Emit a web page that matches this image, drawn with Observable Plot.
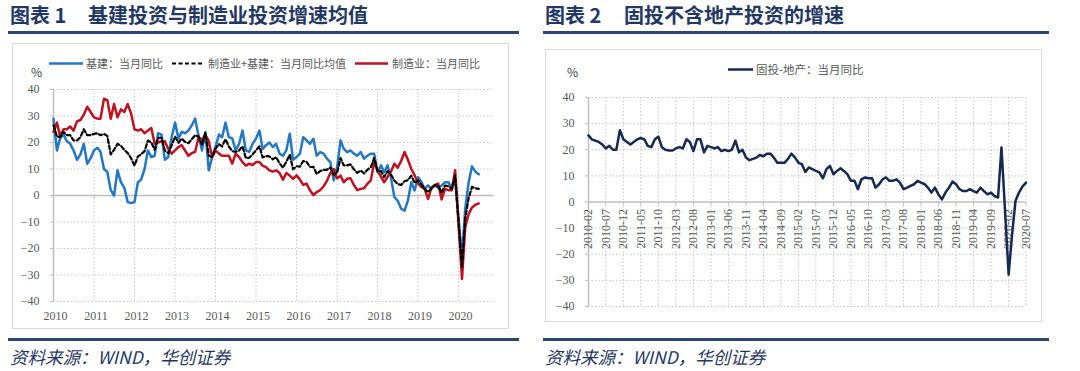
<!DOCTYPE html>
<html><head><meta charset="utf-8">
<script src="https://cdn.jsdelivr.net/npm/d3@7"></script>
<script src="https://cdn.jsdelivr.net/npm/@observablehq/plot@0.6"></script>
<style>
body{margin:0;width:1080px;height:371px;background:#fff;position:relative;overflow:hidden;font-family:"Noto Sans CJK SC",sans-serif;}
.abs{position:absolute;}
.title{font-weight:700;font-size:20px;color:#1F3864;line-height:20px;white-space:nowrap;}
.rule{height:3px;background:#2A4674;}
.src{font-style:italic;font-size:17.5px;color:#1F3864;white-space:nowrap;line-height:18px;}
.box{border:1px solid #D9D9D9;box-sizing:border-box;}
.leg{font-size:11px;color:#595959;white-space:nowrap;line-height:12px;}
.pct{font-size:12px;color:#404040;line-height:12px;}
svg{overflow:visible;}
</style></head><body>
<div class="abs title" style="left:10px;top:5px;">图表 1</div>
<div class="abs title" style="left:88px;top:5px;">基建投资与制造业投资增速均值</div>
<div class="abs rule" style="left:8px;top:31px;width:511px;"></div>
<div class="abs title" style="left:545px;top:5px;">图表 2</div>
<div class="abs title" style="left:624px;top:5px;">固投不含地产投资的增速</div>
<div class="abs rule" style="left:543px;top:31px;width:506px;"></div>

<div class="abs box" style="left:12px;top:43px;width:497px;height:286px;"></div>
<div class="abs box" style="left:545px;top:49px;width:497px;height:273px;"></div>
<div id="left" class="abs" style="left:12px;top:43px;"></div>
<div id="right" class="abs" style="left:545px;top:49px;"></div>

<div class="abs pct" style="left:31px;top:66px;">%</div>
<div class="abs pct" style="left:567px;top:66px;">%</div>

<svg class="abs" style="left:49px;top:62px;" width="35" height="3"><line x1="0" y1="1.5" x2="34" y2="1.5" stroke="#2378C3" stroke-width="2.5"/></svg>
<div class="abs leg" style="left:86px;top:57px;">基建：当月同比</div>
<svg class="abs" style="left:172px;top:62px;" width="33" height="3"><line x1="0" y1="1.5" x2="32" y2="1.5" stroke="#000" stroke-width="2.2" stroke-dasharray="4,2.5"/></svg>
<div class="abs leg" style="left:208px;top:57px;">制造业+基建：当月同比均值</div>
<svg class="abs" style="left:355px;top:62px;" width="34" height="3"><line x1="0" y1="1.5" x2="33" y2="1.5" stroke="#C0111F" stroke-width="2.5"/></svg>
<div class="abs leg" style="left:392px;top:57px;">制造业：当月同比</div>

<svg class="abs" style="left:728px;top:68px;" width="26" height="3"><line x1="0" y1="1.5" x2="25" y2="1.5" stroke="#142A52" stroke-width="2.5"/></svg>
<div class="abs leg" style="left:756px;top:63px;font-size:11.5px;">固投-地产：当月同比</div>

<div class="abs rule" style="left:8px;top:338px;width:511px;"></div>
<div class="abs rule" style="left:543px;top:338px;width:506px;"></div>
<div class="abs src" style="left:10px;top:348px;">资料来源：WIND，华创证券</div>
<div class="abs src" style="left:545px;top:348px;">资料来源：WIND，华创证券</div>

<script>
// ---- Figure 1: monthly, starting 2010-01 ----
const infra = [29,17,21.5,23,20.5,19.5,17,13.5,15.5,19.5,12,14,
17,18,16.5,10,9,2,0,9.5,5,3,-2.5,-2.8,
-2.5,5,6,10,17,14.5,15,23.5,23,13.5,14.5,22,
27.5,21.5,24,23.5,24.5,26.5,29,22.5,17,24,9.5,14.5,
18.5,23,22,27.5,22,21.5,17,19.5,24.5,17,16.5,19.5,
21.5,24.5,17.5,19,20,18.3,19.5,15.8,15,17,23.3,13.5,
14.5,15.8,22,20.8,19.5,21.4,15,16.4,15.8,13.9,12.6,5.7,
10.7,20.8,17.7,16.4,17,15.8,15,16.4,13.9,15,15.8,15.8,
8.8,11.4,8.8,11.4,6.9,-0.6,-1.9,-5,-5.7,-1.9,5,1.9,
6.9,5,2.5,3.8,2.5,3.8,2.9,3.8,5,5,2.9,5.7,
null,-23,-5,5,11,9,8];
const manu = [24,27.5,22.5,25,25,26,24.5,28,28.5,30.5,33.5,31.5,
29.5,29,29,36.5,36,29,34.5,29.5,32.5,31.5,34.5,31,
25,24.5,25,23.5,24.5,25.5,19.5,20,20.5,20.5,17.5,15.8,
17,18.3,19,17,15,16,16.5,22,21,23,20.5,14.5,
17,15.8,15,15,15,12,15.8,14.5,12.6,11.3,12,11.5,
12.6,12.6,11.3,10.7,9.5,9,9.5,8.5,6,8.5,7.5,6.3,
7.6,6,4,4.5,2,0.2,1.3,2,3.5,5.5,8.5,10,
6.5,7.5,5,6.3,6.5,4,2,2.5,2.7,4.4,5.7,12.5,
9.5,7,5,7,9,12,10.5,13,16.4,13.5,10,7.6,
4.5,3.2,2.5,-1.3,3,4,4.5,-1.5,2.5,2,2,9.5,
null,-31.5,-12,-7,-4.5,-3.5,-3];
const avgBoth = [26.5,22.25,22,24,22.75,22.75,20.75,20.75,22,25,22.75,22.75,
23.25,23.5,22.75,23.25,22.5,15.5,17.25,19.5,18.75,17.25,16,14.1,
11.25,14.75,15.5,16.75,20.75,20,17.25,21.75,21.75,17,16,18.9,
22.25,19.9,21.5,20.25,19.75,21.25,22.75,22.25,19,23.5,15,14.5,
17.75,19.4,18.5,21.25,18.5,16.75,16.4,17,18.55,14.15,14.25,15.5,
17.05,18.55,14.4,14.85,14.75,13.65,14.5,12.15,10.5,12.75,15.4,9.9,
11.05,10.9,13,12.65,10.75,10.8,8.15,9.2,9.65,9.7,10.55,7.85,
8.6,14.15,11.35,11.35,11.75,9.9,8.5,9.45,8.3,9.7,10.75,14.15,
9.15,9.2,6.9,9.2,7.95,5.7,4.3,4,5.35,5.8,7.5,4.75,
5.7,4.1,2.5,1.25,2.75,3.9,3.7,1.15,3.75,3.5,2.45,7.6,
null,-27.25,-8.5,-1,3.25,2.75,2.5];
const yearLabels = ["2010","2011","2012","2013","2014","2015","2016","2017","2018","2019","2020"];
const yTicks = [-40,-30,-20,-10,0,10,20,30,40];

// ---- Figure 2: monthly, starting 2010-02 ----
const faiExRE = [25.5,24,23.5,23,22,20.5,21.5,20,20,27.5,24,23,
22,23,24,24.5,24,21.5,21,24,25,21,20,19.7,
19.7,20.5,21,20.5,24,23,19.5,24,24,19,21.5,21,
20.5,21,19.5,20,19.5,20,23.5,19,20,17,16,16.5,
17,18,17.5,18.5,18.5,17,15,15,15,16.5,18.5,17,
15,14.5,11.5,13.2,12.6,11.9,11.3,9.1,12.6,13.8,10.6,11.9,
12.9,11.9,10.6,8.1,8.1,4.9,8.7,9.4,9.1,9.1,5.5,6.8,
8.7,9.4,8.1,8.1,8.7,7.4,4.9,5.5,6.2,6.8,8.1,7.4,
6.8,5.5,3.6,5.5,2.9,1,3.6,5.5,7.8,6.8,4.9,4.2,
4.2,4.9,4.2,3.6,5.5,4.2,2.9,3.6,2.3,1.7,20.9,null,
-27.8,-13,0.5,3.6,6,7.4];
const monthLabels = ["2010-02","2010-07","2010-12","2011-05","2011-10","2012-03","2012-08","2013-01","2013-06","2013-11","2014-04","2014-09","2015-02","2015-07","2015-12","2016-05","2016-10","2017-03","2017-08","2018-01","2018-06","2018-11","2019-04","2019-09","2020-02","2020-07"];

const GRID = "#C8C8C8", AXIS = "#BFBFBF", TXT = "#595959";
const serif = "'Liberation Serif', 'DejaVu Serif', serif";

function series(arr, y0, m0) {
  return arr.map((v, i) => ({date: new Date(Date.UTC(y0, m0 + i, 1)), v})).filter(d => d.v != null);
}
const parseYM = s => new Date(Date.UTC(+s.slice(0,4), +s.slice(5,7) - 1, 1));

// Left chart
const yearDates = yearLabels.map(s => new Date(Date.UTC(+s, 0, 1)));
const left = Plot.plot({
  width: 496, height: 285,
  marginLeft: 41, marginRight: 14, marginTop: 46, marginBottom: 27,
  x: {type: "utc", domain: [new Date(Date.UTC(2010,0,1)), new Date(Date.UTC(2020,10,20))], label: null},
  y: {domain: [-40, 40], label: null},
  style: {fontFamily: serif, fontSize: "12px", color: TXT, background: "transparent", overflow: "visible"},
  marks: [
    Plot.ruleY(yTicks.filter(d => d !== 0), {stroke: GRID, strokeDasharray: "1.5,2"}),
    Plot.ruleX(yearDates.slice(1), {stroke: GRID, strokeDasharray: "1.5,2"}),
    Plot.ruleX([yearDates[0]], {stroke: AXIS, strokeWidth: 1.5}),
    Plot.ruleY([0], {stroke: AXIS, strokeWidth: 1.5}),
    Plot.ruleX(yearDates.slice(1), {y1: 0, y2: -1.4, stroke: AXIS}),
    Plot.axisY({ticks: yTicks, tickSize: 3, tickPadding: 11, stroke: AXIS, fill: TXT, label: null}),
    Plot.axisX({ticks: yearDates, tickSize: 0, tickPadding: 10, tickFormat: d => String(d.getUTCFullYear()), fill: TXT, dx: 2, label: null}),
    Plot.line(series(infra, 2010, 0), {x: "date", y: "v", stroke: "#2378C3", strokeWidth: 2.5, strokeLinejoin: "round"}),
    Plot.line(series(manu, 2010, 0), {x: "date", y: "v", stroke: "#C0111F", strokeWidth: 2.5, strokeLinejoin: "round"}),
    Plot.line(series(avgBoth, 2010, 0), {x: "date", y: "v", stroke: "#000", strokeWidth: 2.2, strokeDasharray: "4,2.5"})
  ]
});
document.getElementById("left").appendChild(left);

// Right chart
const labelDates = monthLabels.map(parseYM);
const right = Plot.plot({
  width: 497, height: 273,
  marginLeft: 43, marginRight: 16.5, marginTop: 48, marginBottom: 16,
  x: {type: "utc", domain: [labelDates[0], labelDates[labelDates.length - 1]], axis: null},
  y: {domain: [-40, 40], label: null},
  style: {fontFamily: serif, fontSize: "12px", color: TXT, background: "transparent", overflow: "visible"},
  marks: [
    Plot.ruleY(yTicks.filter(d => d !== 0), {stroke: GRID, strokeDasharray: "1.5,2"}),
    Plot.ruleX(labelDates.slice(1), {stroke: GRID, strokeDasharray: "1.5,2"}),
    Plot.ruleX([labelDates[0]], {stroke: AXIS, strokeWidth: 1.5}),
    Plot.ruleY([0], {stroke: AXIS, strokeWidth: 1.5}),
    Plot.ruleX(labelDates, {y1: 0, y2: -1.3, stroke: AXIS}),
    Plot.axisY({ticks: yTicks, tickSize: 3, tickPadding: 11, stroke: AXIS, fill: TXT, label: null}),
    Plot.text(labelDates, {x: d => d, y: 0, text: (d, i) => monthLabels[i], rotate: -90, textAnchor: "end", dy: 7, fill: TXT, fontSize: 12}),
    Plot.line(series(faiExRE, 2010, 1), {x: "date", y: "v", stroke: "#142A52", strokeWidth: 2.5, strokeLinejoin: "round"})
  ]
});
document.getElementById("right").appendChild(right);
</script>
</body></html>
